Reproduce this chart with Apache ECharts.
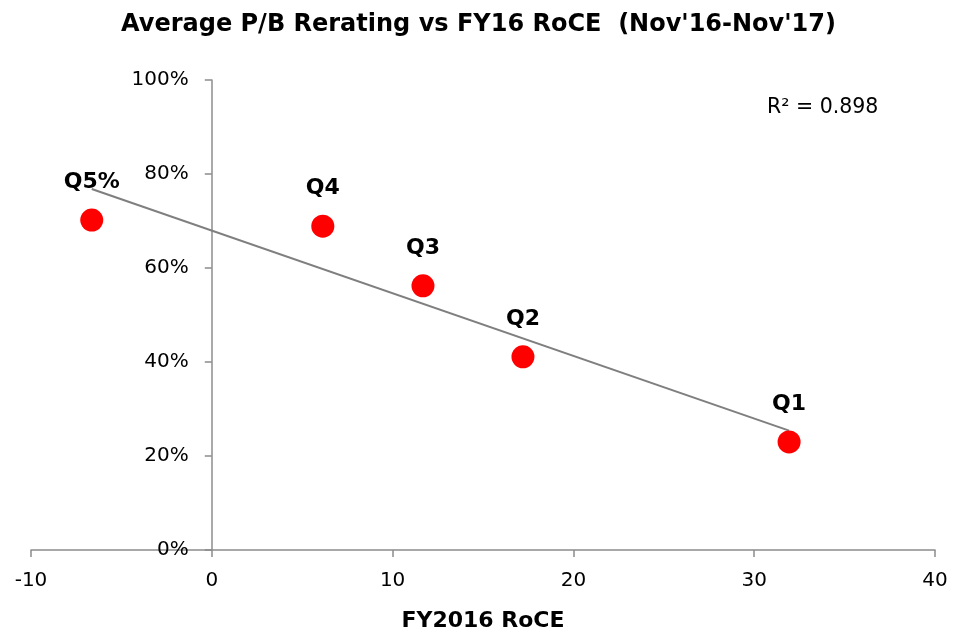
<!DOCTYPE html>
<html>
<head>
<meta charset="utf-8">
<script src="https://cdn.jsdelivr.net/npm/echarts@6/dist/echarts.min.js"></script>
<style>
  html, body { margin: 0; padding: 0; background: #fff; }
  #chart { width: 957px; height: 634px; }
</style>
</head>
<body>
<div id="chart"></div>
<script>
var quintiles = ['Q1', 'Q2', 'Q3', 'Q4', 'Q5%'];
var roce = [31.93, 17.21, 11.68, 6.14, -6.64];
var rerating = [0.230, 0.411, 0.562, 0.689, 0.702];
var xTicks = [-10, 0, 10, 20, 30, 40];

// least squares trendline, like the Excel one
function fit(xs, ys) {
    var n = xs.length, mx = 0, my = 0;
    for (var i = 0; i < n; i++) { mx += xs[i]; my += ys[i]; }
    mx /= n; my /= n;
    var sxy = 0, sxx = 0, syy = 0;
    for (var j = 0; j < n; j++) {
        sxy += (xs[j] - mx) * (ys[j] - my);
        sxx += (xs[j] - mx) * (xs[j] - mx);
        syy += (ys[j] - my) * (ys[j] - my);
    }
    var b = sxy / sxx;
    return { slope: b, icpt: my - b * mx, r2: sxy * sxy / (sxx * syy) };
}
var tr = fit(roce, rerating);
var xMin = Math.min.apply(null, roce), xMax = Math.max.apply(null, roce);
var trend = [[xMin, tr.icpt + tr.slope * xMin], [xMax, tr.icpt + tr.slope * xMax]];

var font = 'DejaVu Sans';
var gridLeft = 31, gridRight = 22;
var plotW = 957 - gridLeft - gridRight;
// y axis sits at x = 0, pull it inwards from the grid's left edge
var yOffset = -plotW * (0 - xTicks[0]) / (xTicks[xTicks.length - 1] - xTicks[0]);

var chart = echarts.init(document.getElementById('chart'));
chart.setOption({
    animation: false,
    title: {
        text: "Average P/B Rerating vs FY16 RoCE  (Nov'16-Nov'17)",
        left: 'center',
        top: 8,
        textStyle: { fontFamily: font, fontSize: 24, fontWeight: 'bold', color: '#000' }
    },
    grid: { left: gridLeft, right: gridRight, top: 80, bottom: 84, containLabel: false, outerBoundsMode: 'none' },
    xAxis: {
        type: 'value',
        min: xTicks[0],
        max: xTicks[xTicks.length - 1],
        interval: 10,
        name: 'FY2016 RoCE',
        nameLocation: 'middle',
        nameGap: 60,
        nameTextStyle: { fontFamily: font, fontSize: 22, fontWeight: 'bold', color: '#000' },
        axisLine: { onZero: true, lineStyle: { color: '#8c8c8c', width: 1.5 } },
        axisTick: { show: true, length: 7, lineStyle: { color: '#8c8c8c', width: 1.5 } },
        axisLabel: { fontFamily: font, fontSize: 20, color: '#000', margin: 21 },
        splitLine: { show: false }
    },
    yAxis: {
        type: 'value',
        min: 0,
        max: 1,
        interval: 0.2,
        offset: yOffset,
        axisLine: { show: true, onZero: false, lineStyle: { color: '#8c8c8c', width: 1.5 } },
        axisTick: { show: true, length: 7, lineStyle: { color: '#8c8c8c', width: 1.5 } },
        axisLabel: {
            fontFamily: font, fontSize: 20, color: '#000', margin: 23,
            formatter: function (v) { return Math.round(v * 100) + '%'; }
        },
        splitLine: { show: false }
    },
    graphic: [{
        type: 'text',
        left: 767,
        top: 97,
        style: { text: 'R² = ' + tr.r2.toFixed(3), font: '20.5px "DejaVu Sans"', fill: '#000' }
    }],
    series: [{
        type: 'line',
        data: trend,
        symbol: 'none',
        lineStyle: { color: '#7f7f7f', width: 2 },
        z: 1
    }, {
        type: 'scatter',
        data: roce.map(function (x, i) { return { value: [x, rerating[i]], name: quintiles[i] }; }),
        symbolSize: 23,
        itemStyle: { color: '#ff0000', opacity: 1 },
        label: {
            show: true,
            position: 'top',
            distance: 15,
            formatter: function (p) { return p.name; },
            fontFamily: font, fontSize: 22, fontWeight: 'bold', color: '#000'
        },
        z: 2
    }]
});
</script>
</body>
</html>
